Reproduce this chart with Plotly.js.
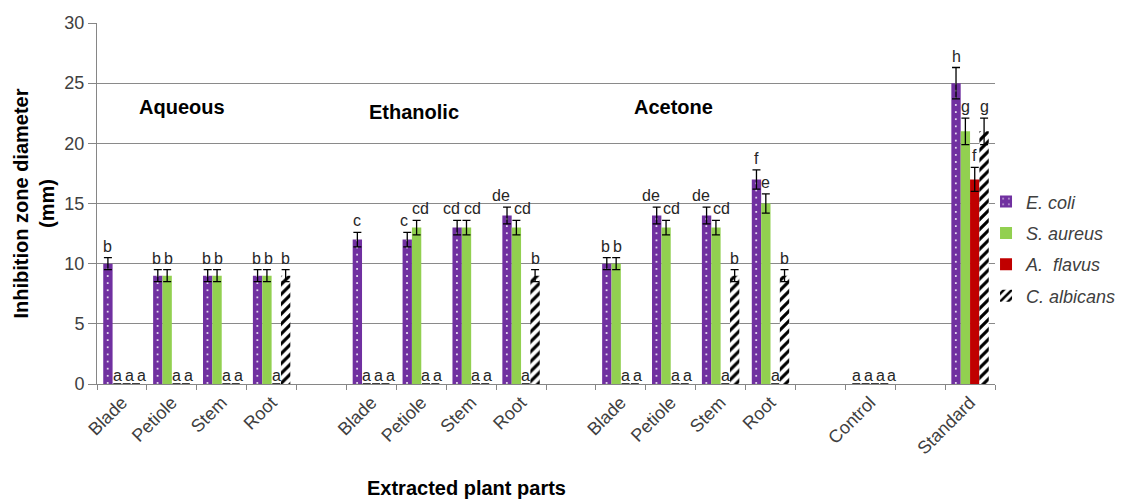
<!DOCTYPE html>
<html><head><meta charset="utf-8">
<script src="https://cdn.plot.ly/plotly-3.0.1.min.js"></script>
<style>html,body{margin:0;padding:0;background:#fff}#chart{width:1127px;height:500px}</style>
</head><body><div id="chart"></div>
<script>
// Category slots (empty strings are spacer slots between extract groups)
const categories = ["Blade","Petiole","Stem","Root","","Blade","Petiole","Stem","Root","","Blade","Petiole","Stem","Root","","Control","","Standard"];
const groupTitles = ["Aqueous","Ethanolic","Acetone"];
const seriesNames = ["E. coli","S. aureus","A.  flavus","C. albicans"];

// Inhibition zone diameter (mm); null = spacer slot
const ecoli     = [10, 9, 9, 9, null, 12, 12, 13, 14, null, 10, 14, 14, 17, null, 0, null, 25];
const saureus   = [ 0, 9, 9, 9, null,  0, 13, 13, 13, null, 10, 13, 13, 15, null, 0, null, 21];
const aflavus   = [ 0, 0, 0, 0, null,  0,  0,  0,  0, null,  0,  0,  0,  0, null, 0, null, 17];
const calbicans = [ 0, 0, 0, 9, null,  0,  0,  0,  9, null,  0,  0,  9,  9, null, 0, null, 21];

// Error bars (±)
const ecoliErr     = [0.5,0.5,0.5,0.5,null,0.6,0.6,0.6,0.7,null,0.5,0.7,0.7,0.8,null,0,null,1.3];
const saureusErr   = [0,0.5,0.5,0.5,null,0,0.6,0.6,0.6,null,0.5,0.6,0.6,0.8,null,0,null,1.1];
const aflavusErr   = [0,0,0,0,null,0,0,0,0,null,0,0,0,0,null,0,null,1.0];
const calbicansErr = [0,0,0,0.5,null,0,0,0,0.5,null,0,0,0.5,0.5,null,0,null,1.1];

// Significance letters
const ecoliLet     = ["b","b","b","b","","c","c","cd","de","","b","de","de","f","","a","","h"];
const saureusLet   = ["a","b","b","b","","a","cd","cd","cd","","b","cd","cd","e","","a","","g"];
const aflavusLet   = ["a","a","a","a","","a","a","a","a","","a","a","a","a","","a","","f"];
const calbicansLet = ["a","a","a","b","","a","a","a","b","","a","a","b","b","","a","","g"];

const xIdx = categories.map((c,i)=>i);
const values = [ecoli, saureus, aflavus, calbicans];
const errs = [ecoliErr, saureusErr, aflavusErr, calbicansErr];
const letters = [ecoliLet, saureusLet, aflavusLet, calbicansLet];

// plot geometry (margins fixed below)
const PLOT_W = 1127-97-132, PLOT_H = 500-23-116;
const pxPerCat = PLOT_W/categories.length, pxPerUnit = PLOT_H/30;

const FONT = 'Liberation Sans, Arial, sans-serif';
const colors = ['#7030A0','#92D050','#C00000','#ffffff'];
const patterns = [
  {shape:'.', fgcolor:'#ffffff', bgcolor:'#7030A0', size:pxPerCat/7, solidity:0.06, fillmode:'replace'},
  {shape:''},
  {shape:''},
  {shape:'/', fgcolor:'#000000', bgcolor:'#ffffff', size:7, solidity:0.45, fillmode:'replace'}
];

const BARGAP = 0.25;
const traces = values.map((v,k)=>({
  type:'bar',
  name:'<i>'+seriesNames[k]+'</i>',
  legendgroup:'g'+k,
  x:xIdx, y:v,
  marker:{color:colors[k], pattern:patterns[k], line:{width:0}},
  error_y:{type:'data', array:errs[k].map((e,i)=> (v[i]>0 ? e : null)), visible:true,
    color:'#000000', thickness:1.3, width:4},
  hoverinfo:'skip'
}));

// letters above bars, nudged apart where neighbours would collide
const LET_SIZE = 16;
const w = (1-BARGAP)/4;
const annotations = [];
categories.forEach((c,i)=>{
  let prev = null;
  for(let k=0;k<4;k++){
    const val = values[k][i];
    if(val===null || !letters[k][i]) continue;
    const off = -(1-BARGAP)/2 + w*(k+0.5);
    const top = val + (errs[k][i]||0);
    const txt = letters[k][i];
    const wid = txt.length*0.556*LET_SIZE;
    let cx = (i+off)*pxPerCat;
    const by = top*pxPerUnit;
    const ann = {x:0, y:top, xref:'x', yref:'y', text:txt, showarrow:false,
      yanchor:'bottom', yshift:val>0?1:-2, font:{family:FONT, size:LET_SIZE, color:'#262626'}};
    if(prev && Math.abs(by-prev.by) < 0.95*LET_SIZE){
      const minC = prev.cx + (prev.wid+wid)/2 + 3;
      if(cx < minC){
        const need = minC - cx;
        if(val===0 || prev.val===0){ cx += need; }
        else { prev.cx -= need/2; prev.ann.x = prev.cx/pxPerCat; cx += need/2; }
      }
    }
    ann.x = cx/pxPerCat;
    prev = {cx, by, wid, txt, val, ann};
    annotations.push(ann);
  }
});
const titlePos = [[1.2,23],[5.85,22.6],[11.05,23]];
groupTitles.forEach((t,j)=>{
  annotations.push({x:titlePos[j][0], y:titlePos[j][1], xref:'x', yref:'y', text:'<b>'+t+'</b>', showarrow:false,
    font:{family:FONT, size:20, color:'#000'}});
});
annotations.push({x:0.411, y:-0.288, xref:'paper', yref:'paper', text:'<b>Extracted plant parts</b>',
  showarrow:false, yanchor:'middle', font:{family:FONT, size:20, color:'#000'}});

const boundaries = [];
for(let i=0;i<=categories.length;i++) boundaries.push(i-0.5);
const labelIdx = xIdx.filter(i=>categories[i]!=='');

const layout = {
  width:1127, height:500,
  margin:{l:97, r:132, t:23, b:116, autoexpand:false},
  paper_bgcolor:'#fff', plot_bgcolor:'#fff',
  barmode:'group', bargap:BARGAP, bargroupgap:0,
  font:{family:FONT, size:14, color:'#404040'},
  showlegend:true,
  legend:{x:0.99, y:0.556, xanchor:'left', yanchor:'top', tracegroupgap:5,
    font:{size:18, color:'#404040'}, bgcolor:'rgba(0,0,0,0)'},
  xaxis:{
    range:[-0.5, categories.length-0.5], tickmode:'array', tickvals:labelIdx,
    ticktext:labelIdx.map(i=>categories[i]), tickangle:-45, ticks:'', automargin:false,
    showline:true, linecolor:'#868686', linewidth:1, showgrid:false, zeroline:false,
    tickfont:{size:18, color:'#404040'},
    minor:{tickmode:'array', tickvals:boundaries, ticks:'outside', ticklen:5, tickcolor:'#868686', showgrid:false}
  },
  yaxis:{
    range:[0,30], dtick:5, ticks:'outside', ticklen:8, tickcolor:'#868686', automargin:false,
    showline:true, linecolor:'#868686', showgrid:true, gridcolor:'#8a8a8a', gridwidth:1, zeroline:false,
    tickfont:{size:18, color:'#404040'},
    title:{text:'<b>Inhibition zone diameter<br>(mm)</b>', font:{size:20, color:'#000'}, standoff:4}
  },
  annotations:annotations
};
Plotly.newPlot('chart', traces, layout, {displayModeBar:false, staticPlot:true});
</script></body></html>
